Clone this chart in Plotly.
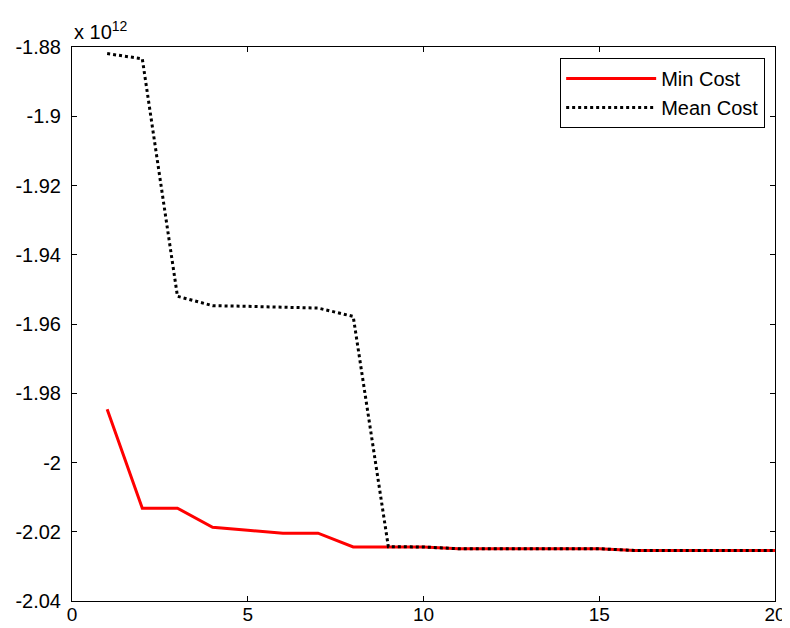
import plotly.graph_objects as go

iterations = list(range(1, 21))
min_cost = [-1.9846, -2.0132, -2.0132, -2.0187, -2.0196, -2.0204, -2.0204, -2.0244, -2.0244, -2.0244,
            -2.0249, -2.0249, -2.0249, -2.0249, -2.0249, -2.0254, -2.0254, -2.0254, -2.0254, -2.0254]
mean_cost = [-1.8819, -1.8834, -1.9520, -1.9547, -1.9549, -1.9551, -1.9554, -1.9578, -2.0243, -2.0244,
             -2.0249, -2.0249, -2.0249, -2.0249, -2.0249, -2.0254, -2.0254, -2.0254, -2.0254, -2.0254]
y_ticks = [-2.04, -2.02, -2.0, -1.98, -1.96, -1.94, -1.92, -1.9, -1.88]
y_tick_text = ["-2.04", "-2.02", "-2", "-1.98", "-1.96", "-1.94", "-1.92", "-1.9", "-1.88"]
x_ticks = [0, 5, 10, 15, 20]

font = "Liberation Sans, Arial, sans-serif"
fs = 20

fig = go.Figure()
fig.add_trace(go.Scatter(x=iterations, y=min_cost, mode="lines", name="Min Cost",
                         line=dict(color="#ff0000", width=3)))
fig.add_trace(go.Scatter(x=iterations, y=mean_cost, mode="lines", name="Mean Cost",
                         line=dict(color="#000000", width=3, dash="dot")))

axis_common = dict(showline=True, linecolor="black", linewidth=1, mirror="ticks",
                   ticks="inside", ticklen=5, tickcolor="black", showgrid=False,
                   zeroline=False, automargin=False)

fig.update_layout(
    width=782, height=620,
    margin=dict(l=64, r=15, t=39, b=27),
    paper_bgcolor="white", plot_bgcolor="white",
    font=dict(family=font, size=fs, color="black"),
    xaxis=dict(range=[0, 20], tickvals=x_ticks, ticklabelstandoff=-4,
               tickfont=dict(family=font, size=19, color="black"), **axis_common),
    yaxis=dict(range=[-2.04, -1.88], tickvals=y_ticks, ticktext=y_tick_text,
               ticklabelstandoff=6, tickfont=dict(family=font, size=fs, color="black"),
               **axis_common),
    legend=dict(x=0.986, y=0.980, xanchor="right", yanchor="top",
                bordercolor="black", borderwidth=1, bgcolor="white",
                font=dict(family=font, size=20, color="black"),
                itemwidth=90, tracegroupgap=0),
    showlegend=True,
    annotations=[dict(text="x 10<sup>12</sup>", xref="paper", yref="paper", x=0, y=1,
                      xanchor="left", yanchor="bottom", yshift=2, showarrow=False,
                      font=dict(family=font, size=fs, color="black"))],
)

fig.write_html("out.html")
